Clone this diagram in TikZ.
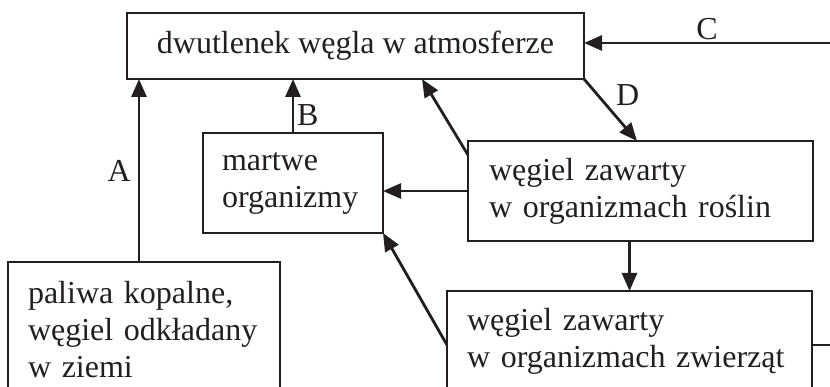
\documentclass[tikz,border=0pt]{standalone}
\usepackage{fontspec}
\setmainfont{Liberation Serif}
\usetikzlibrary{arrows.meta}
\definecolor{ink}{HTML}{231F20}

\begin{document}
\begin{tikzpicture}[x=1pt,y=-1pt,
  every node/.style={font=\fontsize{32}{37}\selectfont, text=ink, outer sep=0pt},
  box/.style={draw=ink, line width=1.6pt, rectangle, inner ysep=0pt, anchor=north west},
  txtbox/.style={box, align=left, minimum height=100pt},
  arr/.style={draw=ink, line width=2.8pt, -{Triangle[length=18pt,width=15pt]}},
  plain/.style={draw=ink, line width=2.8pt}]
\useasboundingbox (0,0) rectangle (830,387);
\clip (0,0) rectangle (830,387);

\node[box, minimum width=457pt, minimum height=66pt, inner xsep=0pt] (atm) at (127,13) {dwutlenek węgla w atmosferze};
\node[txtbox, inner xsep=19pt, text width=142pt] (martwe) at (203,133) {martwe\\organizmy};
\node[txtbox, inner xsep=21pt, text width=303pt] (roslin) at (468,141) {węgiel zawarty\\w organizmach roślin};
\node[txtbox, inner xsep=20pt, text width=325pt] (zwierz) at (447,291) {węgiel zawarty\\w organizmach zwierząt};
\node[txtbox, inner xsep=20pt, text width=232pt, minimum height=136pt] (paliwa) at (8,262) {paliwa kopalne,\\węgiel odkładany\\w ziemi};

\coordinate (cin) at (830,43);
\coordinate (zout) at (830,345);

\draw[arr] (cin) -- node[above, inner sep=3pt] {C} (cin -| atm.east);
\draw[arr] (atm.south east) -- node[pos=0.26, anchor=west, xshift=15pt] {D} ([xshift=169pt]roslin.north west);
\draw[arr] ([yshift=-14pt]roslin.north west) -- ([xshift=295pt]atm.south west);
\draw[arr] (roslin.west) -- (roslin.west -| martwe.east);
\draw[arr] (martwe.north) -- node[pos=0.33, right, inner sep=4pt] {B} (martwe.north |- atm.south);
\draw[arr] ([xshift=-5pt]paliwa.north) -- node[left, xshift=-5pt] {A} ([xshift=-5pt]paliwa.north |- atm.south);
\draw[arr] (zwierz.north |- roslin.south) -- (zwierz.north);
\draw[arr] ([yshift=-4pt]zwierz.west) -- (martwe.south east);
\draw[plain] ([yshift=-4pt]zwierz.east) -- (zout);
\end{tikzpicture}
\end{document}
